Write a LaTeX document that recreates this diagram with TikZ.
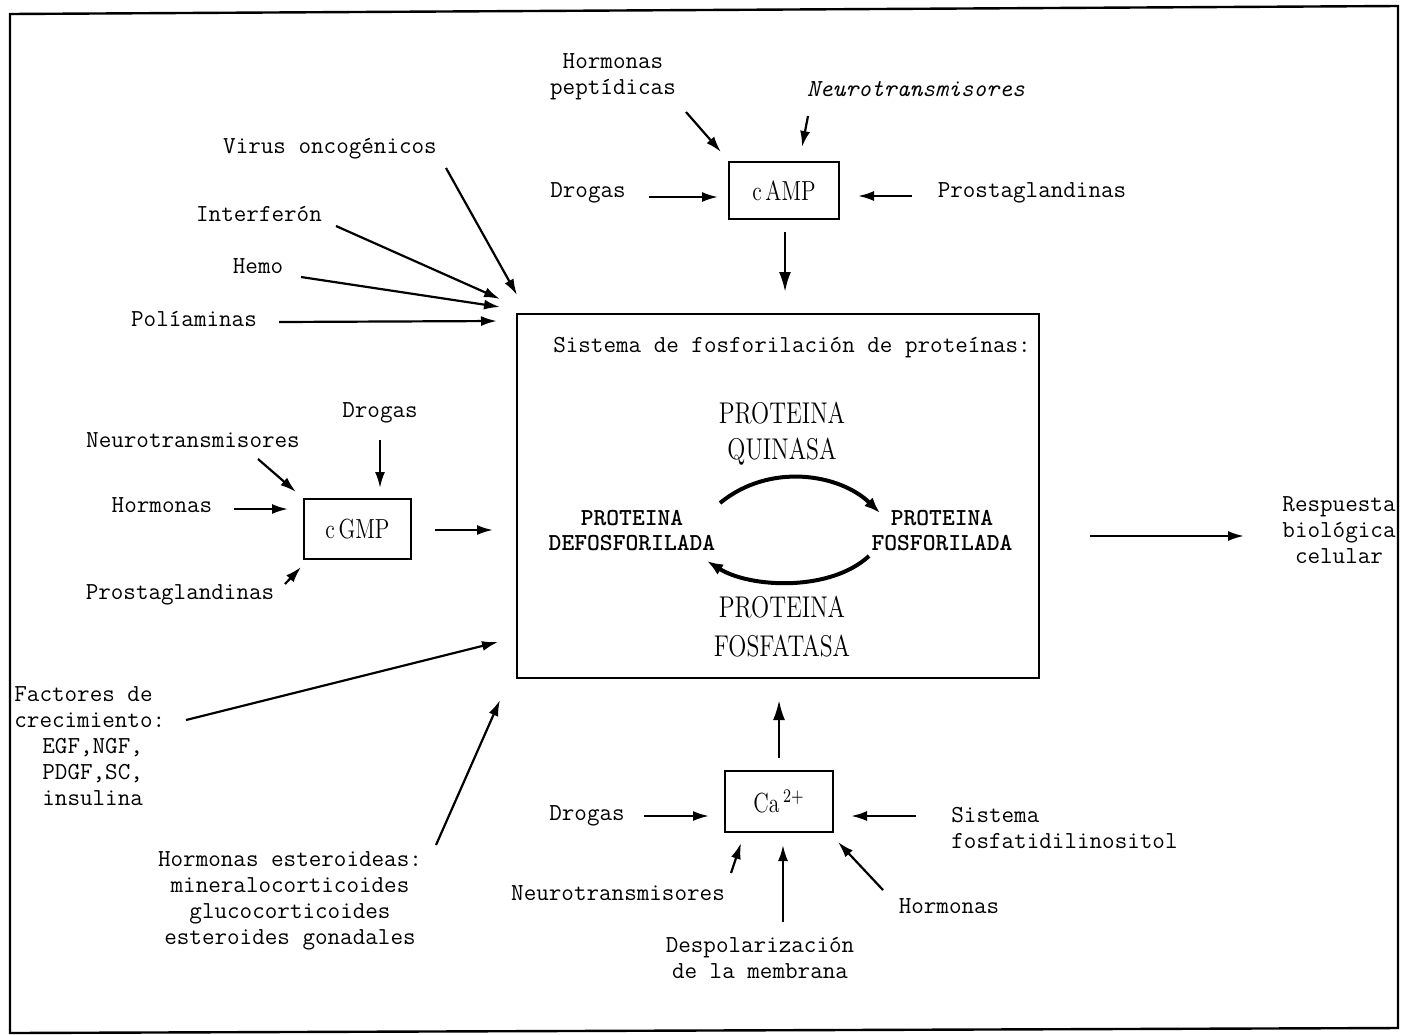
\documentclass[tikz,border=0pt]{standalone}
\usetikzlibrary{arrows.meta}
\newcommand{\tallrm}[1]{\scalebox{0.95}[1.2]{#1}}
\begin{document}
\begin{tikzpicture}[x=0.5pt,y=-0.5pt,
  tt/.style={font=\fontsize{12.2}{13}\ttfamily, inner sep=0pt, align=center},
  tti/.style={font=\fontsize{12.2}{13}\ttfamily\itshape, inner sep=0pt, align=center},
  ttb/.style={font=\fontsize{12.2}{12.5}\ttfamily\bfseries, inner sep=0pt, align=center},
  rmbig/.style={font=\fontsize{12.5}{19.5}\selectfont, inner sep=0pt, align=center},
  boxnode/.style={draw, line width=1.2pt, inner sep=0pt, font=\fontsize{11.5}{13}\selectfont},
  arr/.style={line width=1.1pt, -{Latex[length=8pt,width=5pt]}},
  arrbig/.style={line width=1.3pt, -{Latex[length=10pt,width=6pt]}},
  cyc/.style={line width=2pt, -{Latex[length=8pt,width=6pt]}}
]
\useasboundingbox (0,0) rectangle (1401,1034);
% frame
\draw[line width=1.2pt] (10,14) -- (1398,6) -- (1398,1028) -- (10,1033) -- cycle;

% boxes
\node[boxnode, minimum width=55pt, minimum height=28.5pt] (camp) at (784,190.5) {\tallrm{c\,AMP}};
\node[boxnode, minimum width=53.5pt, minimum height=30pt] (cgmp) at (357.5,529) {\tallrm{c\,GMP}};
\node[boxnode, minimum width=54pt, minimum height=30.5pt] (ca) at (779,801.5) {\tallrm{Ca\,$^{2+}$}};
\node[draw, line width=1.2pt, minimum width=261pt, minimum height=182pt, inner sep=0pt] (main) at (778,496) {};

% main box contents
\node[tt] (sis) at (792,348) {Sistema de fosforilación de proteínas:};
\node[rmbig] (pq1) at (782,413) {\tallrm{PROTEINA}};
\node[rmbig] (pq2) at (782,452) {\tallrm{QUINASA}};
\node[ttb] (pd) at (632,531) {PROTEINA\\DEFOSFORILADA};
\node[ttb] (pf) at (942,531) {PROTEINA\\FOSFORILADA};
\node[rmbig] (pfa1) at (782,607) {\tallrm{PROTEINA}};
\node[rmbig] (pfa2) at (782,646) {\tallrm{FOSFATASA}};
\draw[cyc] (720,503) .. controls (770,462) and (840,474) .. (880,513);
\draw[cyc] (869,556) .. controls (830,592) and (750,588) .. (707,561);

% cAMP inputs
\node[tt] (hp) at (613,77) {Hormonas\\peptídicas};
\node[tti] (nt1) at (916,89) {Neurotransmisores};
\node[tt] (dr1) at (588,193) {Drogas};
\node[tt] (pg1) at (1032,193) {Prostaglandinas};
\coordinate (s1) at (686,112); \coordinate (e1) at (721,152);
\coordinate (s2) at (808,116); \coordinate (e2) at (802,147);
\coordinate (s3) at (649,197); \coordinate (e3) at (718,197);
\coordinate (s4) at (912,196); \coordinate (e4) at (858,196);
\coordinate (s5) at (785,232); \coordinate (e5) at (785,292);
\draw[arr] (s1) -- (e1);
\draw[arr] (s2) -- (e2);
\draw[arr] (s3) -- (e3);
\draw[arr] (s4) -- (e4);
\draw[arrbig] (s5) -- (e5);

% upper left inputs
\node[tt] (vo) at (330,149) {Virus oncogénicos};
\node[tt] (inf) at (259,214) {Interferón};
\node[tt] (hemo) at (258,266) {Hemo};
\node[tt] (poli) at (194,319) {Políaminas};
\coordinate (s6) at (446,168); \coordinate (e6) at (517,295);
\coordinate (s7) at (336,226); \coordinate (e7) at (500,299);
\coordinate (s8) at (301,277); \coordinate (e8) at (500,307);
\coordinate (s9) at (279,322); \coordinate (e9) at (497,321);
\draw[arr] (s6) -- (e6);
\draw[arr] (s7) -- (e7);
\draw[arr] (s8) -- (e8);
\draw[arr] (s9) -- (e9);

% cGMP inputs
\node[tt] (dr2) at (380,413) {Drogas};
\node[tt] (nt2) at (193,440) {Neurotransmisores};
\node[tt] (hor2) at (162,505) {Hormonas};
\node[tt] (pg2) at (180,595) {Prostaglandinas};
\coordinate (s10) at (380,440); \coordinate (e10) at (380,488);
\coordinate (s11) at (258,459); \coordinate (e11) at (296,492);
\coordinate (s12) at (234,509); \coordinate (e12) at (288,509);
\coordinate (s13) at (285,584); \coordinate (e13) at (301,567);
\coordinate (s14) at (435,530); \coordinate (e14) at (493,530);
\draw[arr] (s10) -- (e10);
\draw[arr] (s11) -- (e11);
\draw[arr] (s12) -- (e12);
\draw[arr] (s13) -- (e13);
\draw[arr] (s14) -- (e14);

% growth factors and steroids
\node[tt, align=left, anchor=west] (fac) at (14,746)
  {Factores de\\crecimiento:\\\hspace*{14pt}EGF,NGF,\\\hspace*{14pt}PDGF,SC,\\\hspace*{14pt}insulina};
\node[tt] (he) at (290,901) {Hormonas esteroideas:\\mineralocorticoides\\glucocorticoides\\esteroides gonadales};
\coordinate (s15) at (186,720); \coordinate (e15) at (498,642);
\coordinate (s16) at (436,845); \coordinate (e16) at (500,700);
\draw[arr] (s15) -- (e15);
\draw[arr] (s16) -- (e16);

% Ca inputs
\node[tt] (dr3) at (587,816) {Drogas};
\node[tt, align=left, anchor=west] (sf) at (951,828) {Sistema\\fosfatidilinositol};
\node[tt] (nt3) at (618,893) {Neurotransmisores};
\node[tt] (desp) at (760,958) {Despolarización\\de la membrana};
\node[tt] (hor3) at (949,906) {Hormonas};
\coordinate (s17) at (779,758); \coordinate (e17) at (779,700);
\coordinate (s18) at (644,816); \coordinate (e18) at (709,816);
\coordinate (s19) at (916,816); \coordinate (e19) at (851,816);
\coordinate (s20) at (731,873); \coordinate (e20) at (741,843);
\coordinate (s21) at (783,922); \coordinate (e21) at (783,845);
\coordinate (s22) at (883,890); \coordinate (e22) at (838,842);
\draw[arrbig] (s17) -- (e17);
\draw[arr] (s18) -- (e18);
\draw[arr] (s19) -- (e19);
\draw[arr] (s20) -- (e20);
\draw[arr] (s21) -- (e21);
\draw[arr] (s22) -- (e22);

% output
\node[tt] (resp) at (1339,530) {Respuesta\\biológica\\celular};
\coordinate (s23) at (1090,536); \coordinate (e23) at (1244,536);
\draw[arr] (s23) -- (e23);
\end{tikzpicture}
\end{document}
